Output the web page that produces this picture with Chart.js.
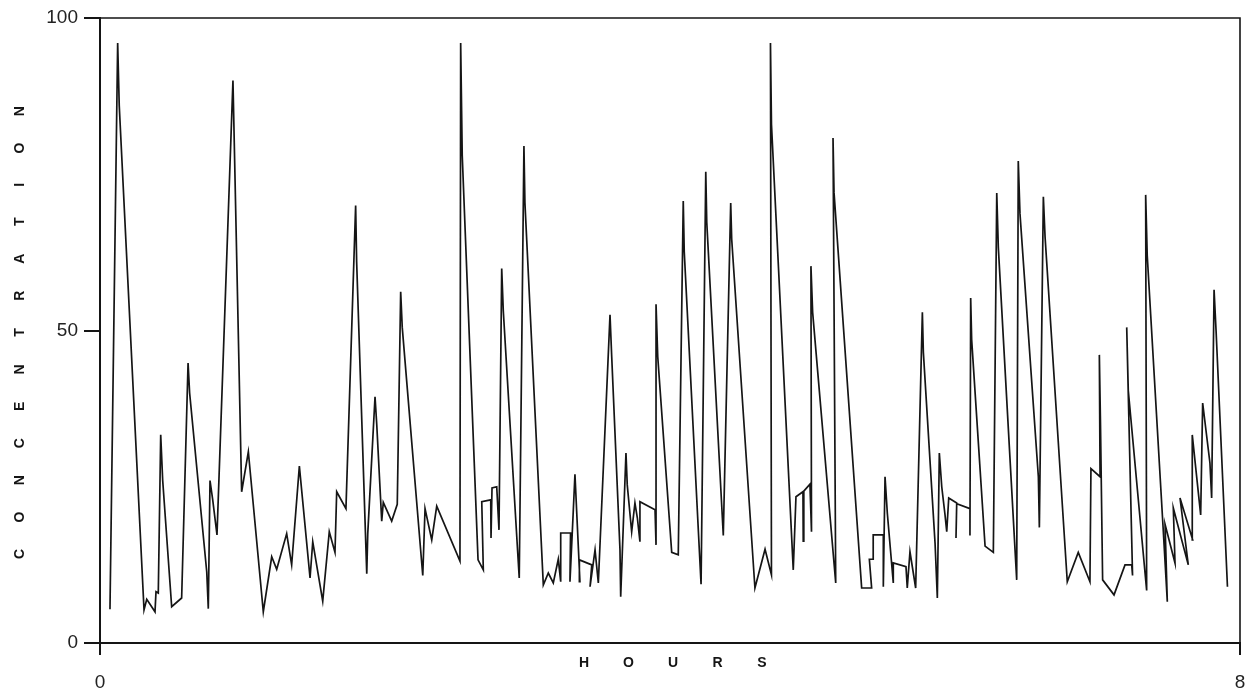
<!DOCTYPE html>
<html>
<head>
<meta charset="utf-8">
<script src="https://cdn.jsdelivr.net/npm/chart.js@4/dist/chart.umd.min.js"></script>
<style>
  html, body { margin: 0; padding: 0; background: #ffffff; }
  #wrap { width: 1254px; height: 698px; }
</style>
</head>
<body>
<div id="wrap"><canvas id="chart" width="1254" height="698"></canvas></div>
<script>
// Sampling times (hours) and measured concentration, in recording order
const hours = [
  0.070, 0.124, 0.135, 0.309, 0.328, 0.386, 0.393, 0.409, 0.426, 0.440,
  0.503, 0.573, 0.618, 0.629, 0.749, 0.760, 0.772, 0.791, 0.821, 0.933,
  0.994, 1.041, 1.146, 1.205, 1.240, 1.310, 1.345, 1.399, 1.474, 1.493,
  1.563, 1.609, 1.649, 1.661, 1.726, 1.794, 1.801, 1.872, 1.879, 1.930,
  1.942, 1.977, 1.988, 2.047, 2.086, 2.110, 2.121, 2.265, 2.281, 2.328,
  2.363, 2.526, 2.531, 2.542, 2.653, 2.690, 2.679, 2.742, 2.744, 2.751,
  2.784, 2.800, 2.819, 2.830, 2.942, 2.975, 2.982, 3.111, 3.146, 3.181,
  3.216, 3.233, 3.233, 3.302, 3.298, 3.321, 3.333, 3.368, 3.364, 3.451,
  3.439, 3.474, 3.497, 3.579, 3.591, 3.649, 3.654, 3.691, 3.700, 3.731,
  3.754, 3.771, 3.789, 3.789, 3.895, 3.902, 3.902, 3.914, 4.012, 4.058,
  4.093, 4.100, 4.218, 4.251, 4.258, 4.374, 4.426, 4.433, 4.596, 4.667,
  4.712, 4.705, 4.712, 4.865, 4.884, 4.933, 4.935, 4.939, 4.982, 4.993,
  4.989, 5.001, 5.163, 5.144, 5.151, 5.345, 5.415, 5.399, 5.426, 5.426,
  5.497, 5.497, 5.509, 5.525, 5.567, 5.567, 5.656, 5.665, 5.684, 5.724,
  5.771, 5.778, 5.860, 5.876, 5.890, 5.907, 5.930, 5.942, 5.956, 6.012,
  6.007, 6.012, 6.105, 6.105, 6.110, 6.117, 6.211, 6.269, 6.293, 6.304,
  6.433, 6.444, 6.456, 6.585, 6.592, 6.620, 6.632, 6.788, 6.865, 6.947,
  6.954, 7.018, 7.013, 7.021, 7.036, 7.116, 7.193, 7.240, 7.246, 7.205,
  7.216, 7.345, 7.338, 7.349, 7.460, 7.490, 7.474, 7.544, 7.532, 7.637,
  7.579, 7.668, 7.665, 7.724, 7.738, 7.789, 7.801, 7.818, 7.832, 7.912
];
const concentration = [
   5.4, 96.0, 86.0,  5.3,  7.0,  5.0,  8.2,  8.0, 33.3, 26.0,
   5.8,  7.2, 44.8, 40.0, 11.4,  5.5, 26.0, 22.9, 17.3, 90.0,
  24.2, 30.6,  5.0, 13.8, 11.8, 17.5, 12.5, 28.3, 10.4, 16.2,
   6.7, 17.8, 14.5, 24.2, 21.5, 70.0, 61.0, 11.1, 17.5, 39.4,
  35.0, 19.5, 22.5, 19.5, 22.2, 56.2, 50.5, 10.8, 21.5, 16.5,
  21.9, 13.1, 96.0, 78.0, 13.3, 11.7, 22.6, 22.9, 16.8, 24.8,
  25.0, 18.1, 59.9, 53.2, 10.4, 79.5, 70.4,  9.3, 11.2,  9.6,
  13.4,  9.8, 17.6, 17.6,  9.8, 21.0, 27.0,  9.8, 13.3, 12.5,
   9.0, 14.9,  9.6, 52.5, 45.8, 14.9,  7.4, 30.4, 25.3, 17.8,
  22.4, 20.0, 16.2, 22.6, 21.3, 15.7, 54.2, 45.8, 14.5, 14.1,
  70.7, 62.6,  9.4, 75.4, 67.3, 17.2, 70.4, 64.6,  8.8, 15.0,
  10.9, 96.0, 83.0, 11.7, 23.4, 24.2, 16.3, 24.3, 25.4, 17.8,
  60.3, 52.9,  9.6, 80.8, 72.1,  8.8,  8.8, 13.4, 13.4, 17.3,
  17.3,  9.0, 26.6, 20.8,  9.6, 12.8, 12.2,  8.8, 14.6,  8.8,
  52.9, 46.5, 16.0,  7.2, 30.4, 25.0, 20.5, 17.8, 23.2, 22.4,
  16.8, 22.3, 21.5, 17.2, 55.2, 48.5, 15.5, 14.5, 72.0, 63.3,
  10.1, 77.1, 68.7, 26.6, 18.5, 71.4, 65.0,  9.8, 14.5,  9.8,
  27.9, 26.6, 46.1, 35.0, 10.1,  7.7, 12.5, 12.5, 10.8, 50.5,
  40.4,  8.4, 71.7, 62.0, 18.6,  6.6, 19.0, 12.8, 21.6, 12.5,
  23.2, 16.5, 33.3, 20.5, 38.4, 28.8, 23.2, 56.5, 50.0,  9.0
];

// Axis ticks and titles
const xTickValues = [0, 8];
const yTickValues = [0, 50, 100];
const xTitle = 'HOURS';
const yTitle = 'CONCENTRATION';

const INK = '#151515';
const FONT = '"Liberation Sans", Arial, sans-serif';

// Open frame on the top and right of the plotting area, plus spaced-out axis titles
const framePlugin = {
  id: 'frameAndTitles',
  afterDraw(chart) {
    const { ctx, chartArea } = chart;
    const { left, right, top, bottom } = chartArea;
    ctx.save();
    ctx.strokeStyle = INK;
    ctx.lineWidth = 1.6;
    ctx.beginPath();
    ctx.moveTo(left, top);
    ctx.lineTo(right, top);
    ctx.lineTo(right, bottom);
    ctx.stroke();

    ctx.fillStyle = INK;
    ctx.font = 'bold 14px ' + FONT;
    ctx.textAlign = 'center';
    ctx.textBaseline = 'middle';

    // horizontal title, letters spread out
    const xLetters = xTitle.split('');
    const xStep = 44.5;
    const cx = (left + right) / 2 + 3;
    xLetters.forEach((ch, i) => {
      ctx.fillText(ch, cx + (i - (xLetters.length - 1) / 2) * xStep, bottom + 20);
    });

    // vertical title, reading upward
    const yLetters = yTitle.split('');
    const yStep = 36.9;
    const cy = (top + bottom) / 2 + 2;
    ctx.translate(20, cy);
    ctx.rotate(-Math.PI / 2);
    yLetters.forEach((ch, i) => {
      ctx.fillText(ch, (i - (yLetters.length - 1) / 2) * yStep, 0);
    });
    ctx.restore();
  }
};

new Chart(document.getElementById('chart'), {
  type: 'scatter',
  data: {
    datasets: [{
      data: hours.map((h, i) => ({ x: h, y: concentration[i] })),
      showLine: true,
      borderColor: INK,
      borderWidth: 1.7,
      pointRadius: 0,
      tension: 0,
      fill: false
    }]
  },
  options: {
    responsive: false,
    animation: false,
    devicePixelRatio: 1,
    layout: { padding: { top: 18, right: 14, left: 0, bottom: 0 } },
    plugins: { legend: { display: false }, tooltip: { enabled: false } },
    scales: {
      x: {
        type: 'linear',
        min: 0,
        max: 8,
        afterBuildTicks(scale) { scale.ticks = xTickValues.map(v => ({ value: v })); },
        afterFit(scale) {
          scale.height = 55;
          scale.paddingLeft = 0;
          scale.paddingRight = 0;
        },
        grid: { drawOnChartArea: false, drawTicks: true, tickLength: 12, color: INK, lineWidth: 2 },
        border: { display: true, color: INK, width: 2 },
        ticks: { color: '#222', font: { family: FONT, size: 19 }, padding: 16, maxRotation: 0 }
      },
      y: {
        type: 'linear',
        min: 0,
        max: 100,
        afterBuildTicks(scale) { scale.ticks = yTickValues.map(v => ({ value: v })); },
        afterFit(scale) {
          scale.width = 100;
          scale.paddingTop = 0;
          scale.paddingBottom = 0;
        },
        grid: { drawOnChartArea: false, drawTicks: true, tickLength: 16, color: INK, lineWidth: 2 },
        border: { display: true, color: INK, width: 2 },
        ticks: { color: '#222', font: { family: FONT, size: 19 }, padding: 6 }
      }
    }
  },
  plugins: [framePlugin]
});
</script>
</body>
</html>
